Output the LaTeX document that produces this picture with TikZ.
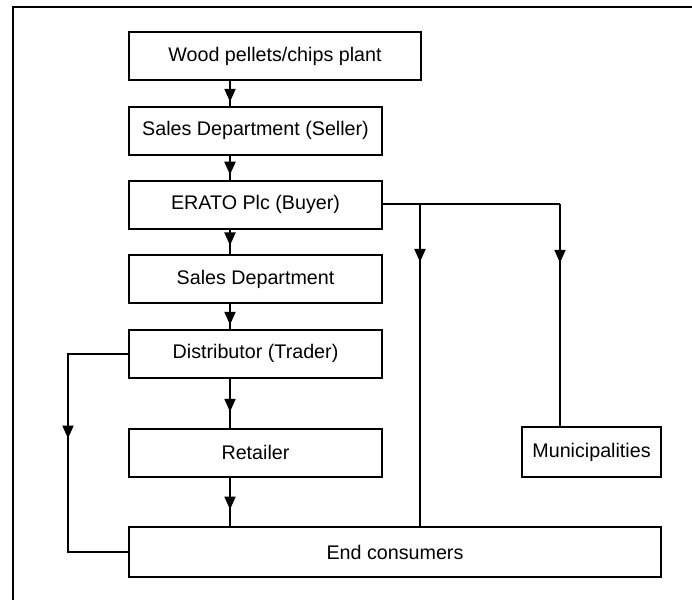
\documentclass[tikz,border=0pt]{standalone}
\usepackage{fontspec}
\setmainfont{Liberation Sans}
\usetikzlibrary{arrows.meta,decorations.markings}
\tikzset{
  box/.style={draw, line width=2pt, rectangle, inner sep=0pt, minimum height=48pt,
    font=\fontsize{19.7}{24}\selectfont},
  conn/.style={line width=2pt},
  midarrow/.style={postaction={decorate}, decoration={markings,
    mark=at position #1 with {\arrow{Triangle[length=13pt,width=11pt]}}}}
}
\begin{document}
\begin{tikzpicture}[x=1pt,y=-1pt]
\useasboundingbox (0,0) rectangle (692,599);
% frame
\draw[line width=2.6pt] (13,600) -- (13,7) -- (693,7);
% boxes
\node[box, minimum width=292pt] (wood) at (275,56) {Wood pellets/chips plant};
\node[box, minimum width=253pt] (seller) at (255.5,130.5) {Sales Department (Seller)};
\node[box, minimum width=253pt] (erato) at (255.5,204.5) {ERATO Plc (Buyer)};
\node[box, minimum width=253pt] (sales) at (255.5,279) {Sales Department};
\node[box, minimum width=253pt] (dist) at (255.5,353.5) {Distributor (Trader)};
\node[box, minimum width=253pt] (ret) at (255.5,452.5) {Retailer};
\node[box, minimum width=532pt, minimum height=50pt] (endc) at (395,552) {End consumers};
\node[box, minimum width=139pt, minimum height=50pt] (muni) at (591.5,452) {Municipalities};
% helper coordinates
\coordinate (ax) at (230,0);
\coordinate (j1) at (420,204);
\coordinate (j2) at (560,204);
\coordinate (lx) at (68,0);
% main chain
\draw[conn, midarrow=0.85] (wood.south -| ax) -- (seller.north -| ax);
\draw[conn, midarrow=0.8] (seller.south -| ax) -- (erato.north -| ax);
\draw[conn, midarrow=0.65] (erato.south -| ax) -- (sales.north -| ax);
\draw[conn, midarrow=0.85] (sales.south -| ax) -- (dist.north -| ax);
\draw[conn, midarrow=0.68] (dist.south -| ax) -- (ret.north -| ax);
\draw[conn, midarrow=0.66] (ret.south -| ax) -- (endc.north -| ax);
% branches from ERATO
\draw[conn] (erato.east |- j2) -- (j2);
\draw[conn, midarrow=0.265] (j2) -- (j2 |- muni.north);
\draw[conn, midarrow=0.18] (j1) -- (j1 |- endc.north);
% distributor to end consumers
\draw[conn, midarrow=145pt] (dist.west) -- (dist.west -| lx) -- (endc.west -| lx) -- (endc.west);
\end{tikzpicture}
\end{document}
